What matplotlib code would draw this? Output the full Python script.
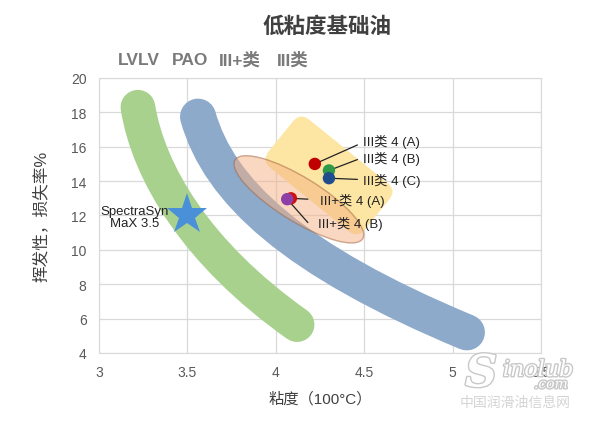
import matplotlib
matplotlib.use("Agg")
import matplotlib.pyplot as plt
import matplotlib.patheffects as pe
from matplotlib.path import Path
from matplotlib.patches import PathPatch, Ellipse, FancyBboxPatch
from matplotlib.transforms import Affine2D, ScaledTranslation

plt.rcParams['font.family'] = ['Liberation Sans', 'Noto Sans CJK SC', 'DejaVu Sans']

# --- data ---
title = "低粘度基础油"
legend_names = ["LVLV", "PAO", "III+类", "III类"]

# band centre lines (start, control, control, end)
lvlv_band = [(3.22, 18.3), (3.28, 14.5), (3.55, 9.8), (4.12, 5.65)]
pao_band = [(3.56, 17.75), (3.68, 13.4), (4.1, 9.4), (5.08, 5.2)]

# group regions
iii_center = (4.30, 14.33)
iiip_center = (4.13, 12.94)

# labelled samples
pt_names = ["III类 4 (A)", "III类 4 (B)", "III类 4 (C)", "III+类 4 (A)", "III+类 4 (B)"]
pt_x = [4.22, 4.30, 4.30, 4.085, 4.064]
pt_y = [15.0, 14.62, 14.17, 13.0, 12.95]
pt_colors = ["#c00000", "#2e9a48", "#1f4e8c", "#d01010", "#8e3fa6"]
lab_x = [4.49, 4.49, 4.49, 4.25, 4.24]
lab_y = [16.35, 15.33, 14.07, 12.92, 11.55]
line_end_x = [4.46, 4.46, 4.46, 4.18, 4.18]
line_end_y = [16.1, 15.25, 14.1, 12.95, 11.6]

star_x, star_y = 3.5, 12.0
star_name = "SpectraSyn\nMaX 3.5"

fig = plt.figure(figsize=(6, 4.27), dpi=100)
ax = fig.add_axes([0.165, 0.171, 0.737, 0.644])
ax.set_xlim(3, 5.5)
ax.set_ylim(4, 20)
ax.set_xticks([3, 3.5, 4, 4.5, 5, 5.5])
ax.set_xticklabels(["3", "3.5", "4", "4.5", "5", "5.5"])
ax.set_yticks(range(4, 21, 2))
ax.grid(True, color="#d9d9d9", linewidth=0.9)
ax.set_axisbelow(True)
for s in ax.spines.values():
    s.set_color("#d9d9d9")
ax.tick_params(length=0, labelsize=10, colors="#595959", pad=9)

codes = [Path.MOVETO, Path.CURVE4, Path.CURVE4, Path.CURVE4]
ax.add_patch(PathPatch(Path(lvlv_band, codes), fill=False, edgecolor="#a9d18e",
                       linewidth=25, capstyle="round", zorder=2))
ax.add_patch(PathPatch(Path(pao_band, codes), fill=False, edgecolor="#8eaacb",
                       linewidth=26, capstyle="round", zorder=2))

# III region: rounded rotated box (sizes in inches)
t_iii = Affine2D().rotate_deg(-39) + fig.dpi_scale_trans + ScaledTranslation(*iii_center, ax.transData)
box = FancyBboxPatch((-0.50, -0.19), 1.0, 0.38, boxstyle="round,pad=0.12,rounding_size=0.12",
                     facecolor="#fde6a4", edgecolor="none", transform=t_iii, zorder=3)
ax.add_patch(box)

# III+ region: ellipse
t_iiip = fig.dpi_scale_trans + ScaledTranslation(*iiip_center, ax.transData)
ax.add_patch(Ellipse((0, 0), 1.50, 0.44, angle=-31.7, facecolor="#f4b183", alpha=0.5,
                     edgecolor="#a0603a", linewidth=1.0, transform=t_iiip, zorder=4))

for i in range(len(pt_names)):
    ax.plot([pt_x[i], line_end_x[i]], [pt_y[i], line_end_y[i]], color="#222222",
            linewidth=0.9, zorder=5)
    ax.text(lab_x[i], lab_y[i], pt_names[i], fontsize=9.5, color="#222222",
            va="center", ha="left", zorder=7)
ax.scatter(pt_x, pt_y, s=80, c=pt_colors, zorder=6, linewidths=0)

ax.plot(star_x, star_y, marker="*", markersize=31, color="#4a90d9", zorder=6,
        markeredgewidth=0)
ax.text(3.2, 11.92, star_name, fontsize=9.5, ha="center", va="center",
        color="#222222", linespacing=1.05, zorder=7)

ax.set_xlabel("粘度（100°C）", fontsize=11, color="#404040", labelpad=8)
ax.set_ylabel("挥发性，损失率%", fontsize=12, color="#404040", labelpad=16)

fig.text(0.545, 0.937, title, fontsize=15.5, fontweight="bold", color="#404040",
         ha="center", va="center")
for name, x in zip(legend_names, [0.197, 0.287, 0.365, 0.462]):
    fig.text(x, 0.858, name, fontsize=12.5, fontweight="bold", color="#7a7a7a",
             ha="left", va="center")

# watermark
glow = [pe.withStroke(linewidth=2, foreground="#c8c8c8")]
fig.text(0.802, 0.122, "S", fontsize=32, style="italic", fontweight="bold",
         family="DejaVu Serif", color="white", ha="center", va="center", path_effects=glow)
fig.text(0.897, 0.131, "inolub", fontsize=16, style="italic", family="DejaVu Serif",
         color="white", ha="center", va="center", path_effects=glow)
fig.text(0.918, 0.098, ".com", fontsize=10, style="italic", family="DejaVu Serif",
         color="white", ha="center", va="center", path_effects=glow)
fig.text(0.858, 0.056, "中国润滑油信息网", fontsize=10, color="#d4d4d4",
         ha="center", va="center")

fig.savefig("out.png", dpi=100)
